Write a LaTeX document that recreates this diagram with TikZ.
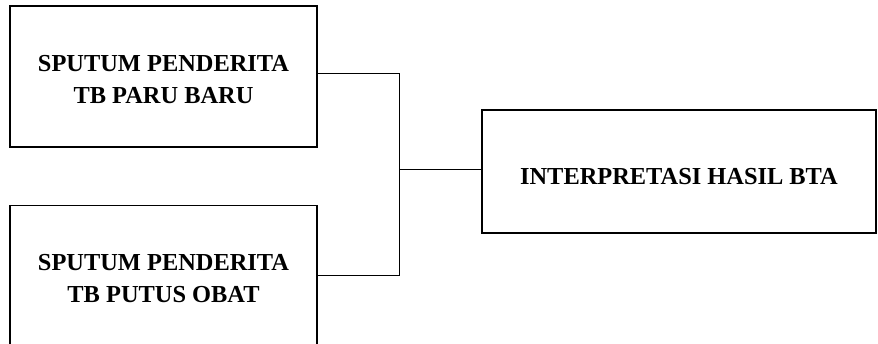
\documentclass[tikz,border=0pt]{standalone}
\usepackage{fontspec}
\setmainfont{Liberation Serif}
\begin{document}
\begin{tikzpicture}[x=1pt,y=1pt,
  box/.style={draw=black,line width=1.5pt,rectangle,align=center,
    font=\fontsize{24.4}{32}\selectfont\bfseries,inner sep=0pt},
  link/.style={draw=black,line width=1pt}]
  \clip (0,0) rectangle (878,343);
  \fill[white] (0,0) rectangle (878,343);

  % sample sources
  \node[box,minimum width=307,minimum height=141] (baru) at (163.5,266.5)
    {\rule{0pt}{21.5pt}SPUTUM PENDERITA\\TB PARU BARU};
  \node[box,minimum width=307,minimum height=147] (putus) at (163.5,64)
    {SPUTUM PENDERITA\\TB PUTUS OBAT};

  % result
  \node[box,minimum width=394,minimum height=123,text height=26.4pt,text depth=0pt]
    (hasil) at (679,171.5) {INTERPRETASI HASIL BTA};

  % joining bracket
  \coordinate (bus) at (399,173);
  \draw[link] ([yshift=3pt]baru.east) -| (bus);
  \draw[link] ([yshift=4pt]putus.east) -| (bus);
  \draw[link] (bus) -- (hasil.west |- bus);
\end{tikzpicture}
\end{document}
